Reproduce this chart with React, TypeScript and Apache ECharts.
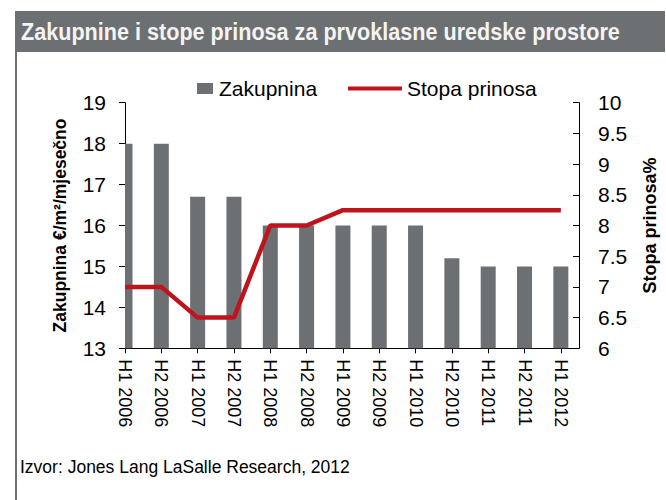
import React, { useEffect, useRef } from "react";
import * as echarts from "echarts";

const categories = [
  "H1 2006", "H2 2006", "H1 2007", "H2 2007", "H1 2008", "H2 2008", "H1 2009",
  "H2 2009", "H1 2010", "H2 2010", "H1 2011", "H2 2011", "H1 2012",
];
const rentValues = [18, 18, 16.7, 16.7, 16, 16, 16, 16, 16, 15.2, 15, 15, 15];
const yieldValues = [7, 7, 6.5, 6.5, 8, 8, 8.25, 8.25, 8.25, 8.25, 8.25, 8.25, 8.25];
const leftTicks = [13, 14, 15, 16, 17, 18, 19];
const rightTicks = [6, 6.5, 7, 7.5, 8, 8.5, 9, 9.5, 10];

const TITLE = "Zakupnine i stope prinosa za prvoklasne uredske prostore";
const SOURCE = "Izvor: Jones Lang LaSalle Research, 2012";
const RENT_NAME = "Zakupnina";
const YIELD_NAME = "Stopa prinosa";
const LEFT_AXIS_NAME = "Zakupnina €/m²/mjesečno";
const RIGHT_AXIS_NAME = "Stopa prinosa%";

const FONT = '"Liberation Sans", Arial, sans-serif';
const GRAY = "#6d7072";
const RED = "#c0141c";
const BAR_WIDTH = 15;

export default function App() {
  const ref = useRef<HTMLDivElement>(null);
  useEffect(() => {
    if (!ref.current) return;
    const chart = echarts.init(ref.current, null, { renderer: "svg" });
    const idx = categories.map((_, i) => i);
    const leftMin = leftTicks[0];
    const option: any = {
      animation: false,
      backgroundColor: "#ffffff",
      textStyle: { fontFamily: FONT },
      grid: {
        left: 125,
        right: 87,
        top: 102.7,
        bottom: 151.7,
        outerBoundsMode: "none",
      },
      legend: [
        {
          data: [RENT_NAME],
          left: 197,
          top: 78,
          padding: 0,
          icon: "rect",
          itemWidth: 16,
          itemHeight: 11,
          itemGap: 6,
          textStyle: { fontSize: 21, color: "#000", fontFamily: FONT, padding: [0, 0, 0, 1] },
          selectedMode: false,
        },
        {
          data: [YIELD_NAME],
          left: 348,
          top: 78,
          padding: 0,
          icon: "rect",
          itemWidth: 54,
          itemHeight: 4,
          textStyle: { fontSize: 21, color: "#000", fontFamily: FONT },
          selectedMode: false,
        },
      ],
      xAxis: {
        type: "value",
        min: 0,
        max: 12.5,
        interval: 1,
        splitLine: { show: false },
        axisLine: { show: true, onZero: false, lineStyle: { color: "#000", width: 1 } },
        axisTick: {
          show: true,
          length: 5,
          customValues: idx,
          lineStyle: { color: "#000" },
        },
        axisLabel: {
          customValues: idx,
          rotate: -90,
          fontSize: 18,
          color: "#000",
          fontFamily: FONT,
          margin: 11,
          formatter: (v: number) => categories[Math.round(v)] ?? "",
        },
      },
      yAxis: [
        {
          type: "value",
          min: leftTicks[0],
          max: leftTicks[leftTicks.length - 1],
          interval: 1,
          position: "left",
          splitLine: { show: false },
          axisLine: { show: true, lineStyle: { color: "#000" } },
          axisTick: { show: true, length: 6, lineStyle: { color: "#000" } },
          axisLabel: { fontSize: 21, color: "#000", margin: 19, fontFamily: FONT },
          name: LEFT_AXIS_NAME,
          nameLocation: "middle",
          nameRotate: 90,
          nameGap: 56,
          nameTextStyle: { fontSize: 17.5, fontWeight: "bold", color: "#000", fontFamily: FONT },
        },
        {
          type: "value",
          min: rightTicks[0],
          max: rightTicks[rightTicks.length - 1],
          interval: 0.5,
          position: "right",
          splitLine: { show: false },
          axisLine: { show: true, lineStyle: { color: "#000" } },
          axisTick: { show: true, inside: true, length: 6, lineStyle: { color: "#000" } },
          axisLabel: { fontSize: 21, color: "#000", margin: 19, fontFamily: FONT },
          name: RIGHT_AXIS_NAME,
          nameLocation: "middle",
          nameRotate: 90,
          nameGap: 62,
          nameTextStyle: { fontSize: 18, fontWeight: "bold", color: "#000", fontFamily: FONT },
        },
      ],
      series: [
        {
          name: RENT_NAME,
          type: "custom",
          data: rentValues.map((v, i) => [i, v]),
          encode: { x: 0, y: 1 },
          itemStyle: { color: GRAY },
          z: 2,
          renderItem: (params: any, api: any) => {
            const xv = api.value(0);
            const yv = api.value(1);
            const top = api.coord([xv, yv]);
            const bottom = api.coord([xv, leftMin]);
            const cs = params.coordSys;
            const shape = echarts.graphic.clipRectByRect(
              {
                x: top[0] - BAR_WIDTH / 2,
                y: top[1],
                width: BAR_WIDTH,
                height: bottom[1] - top[1],
              },
              { x: cs.x, y: cs.y, width: cs.width, height: cs.height }
            );
            if (!shape) return null;
            return { type: "rect", shape, style: { fill: GRAY } };
          },
        },
        {
          name: YIELD_NAME,
          type: "line",
          yAxisIndex: 1,
          data: yieldValues.map((v, i) => [i, v]),
          symbol: "none",
          clip: true,
          lineStyle: { color: RED, width: 4.5 },
          itemStyle: { color: RED },
          z: 3,
        },
      ],
      graphic: [
        {
          type: "rect",
          shape: { x: 15, y: 11, width: 650, height: 41 },
          style: { fill: GRAY },
          silent: true,
        },
        {
          type: "text",
          x: 21,
          y: 32,
          scaleX: 0.9,
          style: {
            text: TITLE,
            font: `bold 24px ${FONT}`,
            fill: "#f4f4f4",
            verticalAlign: "middle",
            textAlign: "left",
          },
          silent: true,
        },
        {
          type: "line",
          shape: { x1: 16, y1: 52, x2: 16, y2: 500 },
          style: { stroke: GRAY, lineWidth: 2 },
          silent: true,
        },
        {
          type: "text",
          x: 20,
          y: 467,
          style: {
            text: SOURCE,
            font: `17.5px ${FONT}`,
            fill: "#000",
            verticalAlign: "middle",
            textAlign: "left",
          },
          silent: true,
        },
      ],
    };
    chart.setOption(option);
    return () => chart.dispose();
  }, []);
  return (
    <div
      ref={ref}
      style={{ position: "fixed", left: 0, top: 0, width: 666, height: 500 }}
    />
  );
}
